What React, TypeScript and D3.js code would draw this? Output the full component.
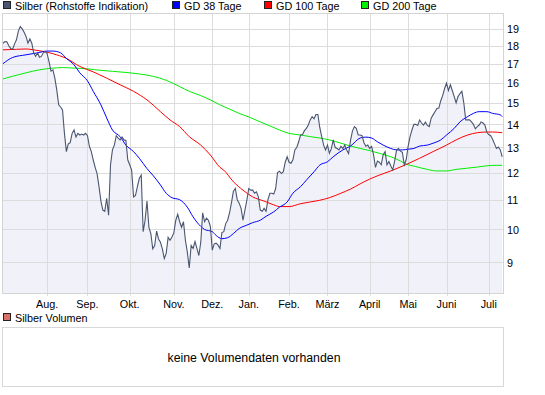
import React from 'react';
import * as d3 from 'd3';

// Silber daily closes (one value per trading day, 01.07.2008 - 10.07.2009)
const priceValues = [
  18.15, 18.25, 18.23, 18.0, 17.85, 17.8, 18.1, 18.35, 18.87, 19.15,
  19.0, 18.8, 18.55, 18.15, 18.4, 18.15, 17.6, 17.4, 17.6, 17.35,
  17.4, 17.6, 17.68, 17.55, 17.1, 16.6, 16.67, 16.23, 15.63, 14.9,
  14.8, 14.66, 13.6, 12.83, 13.15, 13.2, 13.6, 13.75, 13.44, 13.6,
  13.53, 13.57, 13.53, 13.6, 13.5, 13.05, 12.83, 12.49, 12.2, 11.96,
  11.47, 10.95, 10.64, 10.6, 11.05, 10.47, 12.3, 12.9, 13.1, 13.5,
  13.4, 13.32, 13.44, 13.32, 13.3, 12.49, 12.3, 12.09, 11.1, 11.15,
  11.47, 11.78, 11.9, 9.93, 10.3, 10.95, 10.07, 9.87, 9.4, 9.5,
  9.95, 9.7, 9.6, 9.4, 9.11, 9.26, 9.75, 9.66, 9.76, 9.9,
  10.3, 10.5, 10.25, 10.07, 10.25, 9.66, 9.3, 8.84, 9.5, 9.41,
  9.62, 9.41, 9.2, 9.6, 10.55, 10.25, 10.37, 10.3, 10.1, 9.36,
  9.55, 9.57, 9.51, 9.41, 9.9, 9.93, 10.19, 10.3, 10.55, 10.9,
  11.3, 11.4, 11.0, 10.88, 10.7, 10.3, 10.64, 10.98, 11.4, 11.34,
  11.35, 11.23, 11.28, 11.1, 10.64, 10.6, 10.7, 10.6, 11.0, 11.23,
  11.23, 11.2, 11.4, 12.0, 12.05, 11.96, 12.03, 12.4, 12.62, 12.4,
  12.36, 12.5, 12.9, 13.0, 13.24, 13.53, 13.55, 13.72, 13.82, 13.97,
  14.2, 14.35, 14.25, 14.45, 14.45, 13.85, 13.46, 13.1, 12.9, 13.1,
  12.76, 12.95, 13.32, 13.0, 12.96, 12.9, 13.05, 12.96, 13.1, 12.9,
  12.75, 13.3, 13.7, 13.9, 13.82, 13.53, 13.53, 13.5, 13.2, 13.05,
  13.1, 12.96, 13.05, 12.7, 12.2, 12.45, 12.4, 12.3, 12.7, 12.83,
  12.3, 12.43, 12.25, 12.1, 12.45, 12.9, 12.96, 12.85, 12.8, 12.3,
  12.5, 13.05, 13.46, 13.75, 14.0, 14.0, 13.95, 14.2, 14.06, 13.97,
  14.1, 13.95, 13.9, 14.28, 14.43, 14.58, 14.73, 14.75, 15.1, 15.35,
  15.7, 15.97, 15.6, 15.89, 15.6, 15.3, 15.0, 15.3, 15.45, 15.56,
  15.0, 14.2, 14.2, 14.2, 14.11, 14.0, 13.8, 13.9, 13.97, 14.11,
  14.06, 13.97, 13.65, 13.55, 13.5, 13.35, 13.15, 12.96, 13.02, 12.9,
  12.62,
];

// moving averages: [trading day index, value]
const gd38: [number, number][] = [
  [0, 17.0], [5, 17.34], [12, 17.49], [18, 17.6], [23, 17.7], [26, 17.7], [30, 17.6],
  [33, 17.29], [37, 16.94], [40, 16.51], [44, 16.09], [47, 15.56], [51, 14.9], [54, 14.29],
  [57, 13.75], [61, 13.46], [64, 13.1], [68, 12.83], [71, 12.56], [75, 12.15], [78, 11.9],
  [82, 11.53], [85, 11.23], [88, 11.07], [92, 11.0], [96, 10.74], [99, 10.41], [103, 10.1],
  [105, 10.0], [109, 9.93], [111, 9.81], [114, 9.71], [117, 9.74], [120, 9.87], [123, 10.03],
  [127, 10.14], [130, 10.22], [134, 10.3], [137, 10.43], [141, 10.58], [144, 10.74],
  [148, 10.92], [151, 11.23], [155, 11.47], [158, 11.71], [162, 12.03], [165, 12.29],
  [169, 12.42], [172, 12.62], [177, 12.9], [181, 13.06], [186, 13.4], [189, 13.44],
  [192, 13.4], [195, 13.24], [198, 13.1], [202, 12.96], [205, 12.9], [208, 12.9],
  [211, 12.93], [214, 12.96], [217, 13.06], [221, 13.1], [224, 13.18], [228, 13.32],
  [231, 13.53], [235, 13.82], [238, 14.11], [242, 14.35], [245, 14.5], [248, 14.58],
  [252, 14.58], [255, 14.5], [259, 14.43], [260, 14.35],
];

const gd100: [number, number][] = [
  [0, 17.77], [7, 17.8], [12, 17.82], [16, 17.77], [21, 17.68], [26, 17.55], [33, 17.29],
  [40, 16.85], [47, 16.56], [54, 16.23], [61, 15.89], [68, 15.56], [75, 15.14], [82, 14.58],
  [87, 14.2], [92, 13.9], [97, 13.46], [103, 13.1], [108, 12.69], [113, 12.2], [115, 12.09],
  [120, 11.65], [125, 11.34], [130, 11.1], [136, 10.95], [141, 10.82], [144, 10.76],
  [149, 10.76], [155, 10.86], [160, 10.92], [165, 10.98], [170, 11.07], [176, 11.23],
  [181, 11.38], [186, 11.57], [191, 11.75], [196, 11.9], [203, 12.09], [210, 12.31],
  [217, 12.56], [224, 12.83], [231, 13.1], [236, 13.32], [242, 13.53], [247, 13.63],
  [252, 13.66], [255, 13.66], [260, 13.63],
];

const gd200: [number, number][] = [
  [0, 16.19], [5, 16.33], [12, 16.51], [19, 16.67], [26, 16.76], [31, 16.79], [37, 16.76],
  [44, 16.72], [51, 16.64], [57, 16.59], [64, 16.53], [71, 16.45], [78, 16.33], [85, 16.12],
  [92, 15.8], [97, 15.56], [103, 15.35], [108, 15.14], [113, 14.9], [118, 14.7], [123, 14.5],
  [129, 14.3], [134, 14.11], [139, 13.93], [144, 13.75], [149, 13.6], [155, 13.53],
  [160, 13.46], [165, 13.4], [170, 13.32], [176, 13.18], [181, 13.06], [186, 12.96],
  [191, 12.87], [196, 12.76], [202, 12.62], [207, 12.45], [210, 12.33], [215, 12.23],
  [221, 12.12], [226, 12.06], [231, 12.06], [236, 12.12], [242, 12.17], [247, 12.21],
  [252, 12.26], [257, 12.28], [260, 12.28],
];

const yTicks = [9, 10, 11, 12, 13, 14, 15, 16, 17, 18, 19];
const monthLabels = ['Aug.', 'Sep.', 'Okt.', 'Nov.', 'Dez.', 'Jan.', 'Feb.', 'März', 'April', 'Mai', 'Juni', 'Juli'];
const holidays = ['2008-12-24', '2008-12-25', '2008-12-26', '2008-12-31', '2009-01-01', '2009-04-10', '2009-04-13', '2009-05-01'];

const legendItems = [
  { label: 'Silber (Rohstoffe Indikation)', color: '#4a5670', x: 3 },
  { label: 'GD 38 Tage', color: '#0000ff', x: 172 },
  { label: 'GD 100 Tage', color: '#ff0000', x: 264 },
  { label: 'GD 200 Tage', color: '#00ee00', x: 361 },
];

// trading calendar so month ticks land on the first trading day
const tradingDays = (n: number) => {
  const out: Date[] = [];
  const d = new Date(2008, 6, 1);
  while (out.length < n) {
    const key = d3.timeFormat('%Y-%m-%d')(d);
    if (d.getDay() !== 0 && d.getDay() !== 6 && !holidays.includes(key)) out.push(new Date(d));
    d.setDate(d.getDate() + 1);
  }
  return out;
};

const FONT = '"Liberation Sans", Arial, sans-serif';
const FS = 10.8;

export default function App() {
  const left = 3, right = 503, top = 14, bottom = 293;
  const days = tradingDays(priceValues.length);

  const x = d3.scaleLinear().domain([0, priceValues.length - 1]).range([3, 502.2]);
  const y = d3.scaleLog().domain([8.16, 19.93]).range([bottom, top]);

  const monthTicks: number[] = [];
  for (let i = 1; i < days.length; i++) {
    if (days[i].getMonth() !== days[i - 1].getMonth()) monthTicks.push(i);
  }

  const area = d3.area<number>()
    .x((_, i) => x(i))
    .y0(bottom)
    .y1(d => y(d));
  const priceLine = d3.line<number>()
    .x((_, i) => x(i))
    .y(d => y(d));
  const maLine = d3.line<[number, number]>()
    .x(d => x(d[0]))
    .y(d => y(d[1]))
    .curve(d3.curveMonotoneX);

  return (
    <div style={{ position: 'absolute', left: 0, top: 0 }}>
      <svg width={545} height={395} style={{ display: 'block', background: '#fff' }} fontFamily={FONT}>
        {/* legend */}
        {legendItems.map(l => (
          <g key={l.label}>
            <rect x={l.x + 0.5} y={1.5} width={7} height={7} fill={l.color} stroke="#222" shapeRendering="crispEdges" />
            <text x={l.x + 12} y={9.5} fontSize={FS} fill="#000">{l.label}</text>
          </g>
        ))}

        {/* price area */}
        <path d={area(priceValues) || ''} fill="#f1f2f9" />

        {/* grid */}
        <g stroke="#dcdcdc" strokeWidth={1} shapeRendering="crispEdges">
          {yTicks.map(t => (
            <line key={t} x1={left} x2={right} y1={Math.round(y(t)) + 0.5} y2={Math.round(y(t)) + 0.5} />
          ))}
          {monthTicks.map(i => (
            <line key={i} x1={Math.round(x(i)) + 0.5} x2={Math.round(x(i)) + 0.5} y1={top} y2={bottom + 3} />
          ))}
          <rect x={left - 0.5} y={top - 0.5} width={right - left + 1} height={bottom - top + 1} fill="none" stroke="#d4d4d4" />
        </g>

        {/* moving averages */}
        <path d={maLine(gd200) || ''} fill="none" stroke="#00ee00" strokeWidth={1} />
        <path d={maLine(gd100) || ''} fill="none" stroke="#ff0000" strokeWidth={1} />
        <path d={maLine(gd38) || ''} fill="none" stroke="#0000ff" strokeWidth={1} />

        {/* price */}
        <path d={priceLine(priceValues) || ''} fill="none" stroke="#4a5670" strokeWidth={1.1} />

        {/* y axis labels */}
        {yTicks.map(t => (
          <text key={t} x={507} y={y(t) + 4.5} fontSize={FS} fill="#000">{t}</text>
        ))}

        {/* month labels */}
        {monthTicks.map((i, k) => (
          <text key={i} x={x(i)} y={307.5} fontSize={FS} textAnchor="middle" fill="#000">{monthLabels[k]}</text>
        ))}

        {/* volume panel */}
        <rect x={3.5} y={313.5} width={7} height={7} fill="#d9706a" stroke="#222" shapeRendering="crispEdges" />
        <text x={15} y={322} fontSize={FS} fill="#000">Silber Volumen</text>
        <rect x={2.5} y={327.5} width={501} height={59} fill="#fff" stroke="#d8d8d8" shapeRendering="crispEdges" />
        <text x={254} y={362} fontSize={12.3} textAnchor="middle" fill="#000">keine Volumendaten vorhanden</text>
      </svg>
    </div>
  );
}
